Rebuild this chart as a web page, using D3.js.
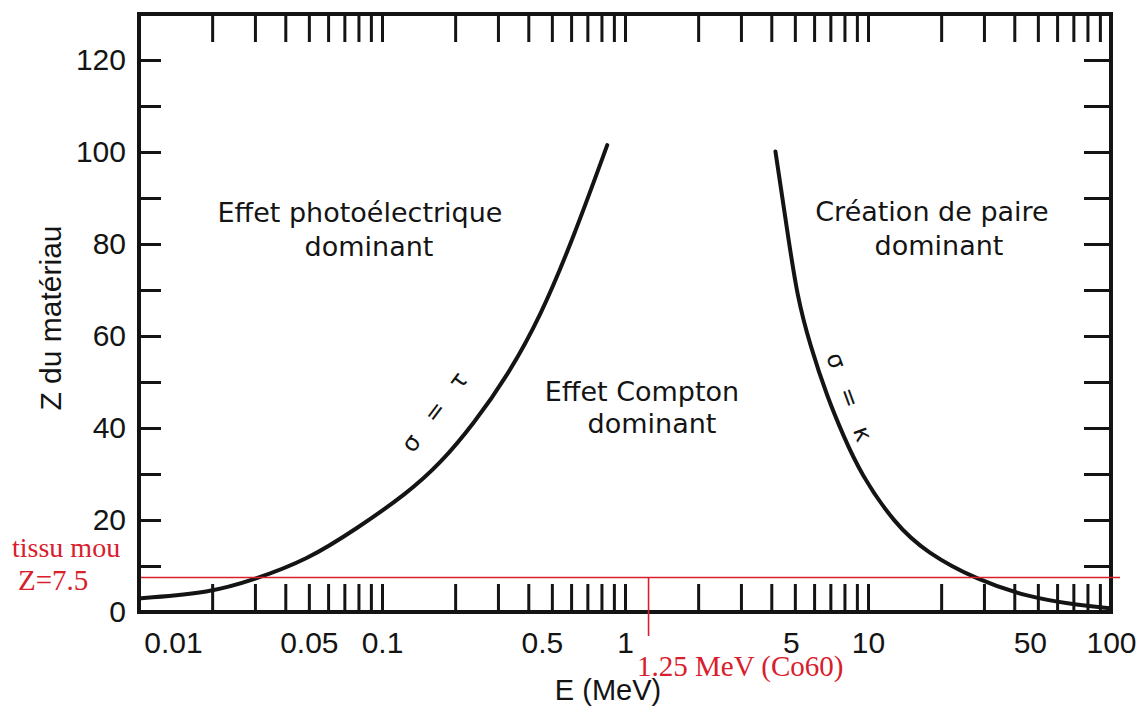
<!DOCTYPE html>
<html><head><meta charset="utf-8">
<script src="https://cdn.jsdelivr.net/npm/d3@7"></script>
<style>body{margin:0;background:#fff} svg{display:block}</style>
</head><body>
<svg id="chart" width="1139" height="706"></svg>
<script>
// ---- data ----
const xTickLabels = [0.01, 0.05, 0.1, 0.5, 1, 5, 10, 50, 100];
const yTickLabels = [0, 20, 40, 60, 80, 100, 120];
const yMinorTicks = [10, 20, 30, 40, 50, 60, 70, 80, 90, 100, 110, 120];

// sigma = tau boundary (photoelectric / Compton)
const leftCurveE = [0.0102, 0.0197, 0.0296, 0.0492, 0.0791, 0.127, 0.174, 0.239, 0.327, 0.449, 0.616, 0.845];
const leftCurveZ = [3.0, 4.2, 7.0, 11.3, 18.2, 25.8, 32.3, 41.0, 51.2, 64.2, 81.6, 101.5];

// sigma = kappa boundary (Compton / pair production)
const rightCurveE = [4.16, 4.65, 5.11, 5.80, 6.79, 7.95, 9.31, 12.8, 17.5, 28.1, 45.2, 72.6, 99.5];
const rightCurveZ = [100.1, 83.0, 68.5, 57.7, 46.8, 38.1, 30.2, 19.3, 12.8, 7.0, 3.3, 1.5, 0.8];

const softTissueZ = 7.5;
const co60E = 1.25;

// ---- scales ----
const x = d3.scaleLog().domain([0.01, 100]).range([139, 1111]);
const y = d3.scaleLinear().domain([0, 130]).range([612, 14]);
const svg = d3.select("#chart");
const ink = "#141414";
const red = "#d8202c";
const sans = "'Liberation Sans', Arial, sans-serif";
const dejavu = "'DejaVu Sans', Verdana, sans-serif";
const serif = "'Liberation Serif', 'Times New Roman', serif";

svg.append("rect").attr("width", 1139).attr("height", 706).attr("fill", "#fff");

// ---- minor ticks (inward) ----
const xMinor = x.ticks().filter(v => v > 0.0101 && v < 99);
const tickStyle = g => { g.select(".domain").remove(); g.selectAll("line").attr("stroke", ink).attr("stroke-width", 3); };

svg.append("g").attr("transform", `translate(0,${y(0)})`)
  .call(d3.axisBottom(x).tickValues(xMinor).tickSize(-28).tickFormat(""))
  .call(tickStyle);
svg.append("g").attr("transform", `translate(0,${y(130)})`)
  .call(d3.axisTop(x).tickValues(xMinor).tickSize(-28).tickFormat(""))
  .call(tickStyle);
svg.append("g").attr("transform", `translate(${x(0.01)},0)`)
  .call(d3.axisLeft(y).tickValues(yMinorTicks).tickSize(-22).tickFormat(""))
  .call(tickStyle);
svg.append("g").attr("transform", `translate(${x(100)},0)`)
  .call(d3.axisRight(y).tickValues(yMinorTicks).tickSize(-27).tickFormat(""))
  .call(tickStyle);

// ---- tick labels ----
const labelNudge = {0.01: 34, 0.5: -10, 50: -8, 5: -4};
const xl = svg.append("g").attr("transform", `translate(0,${y(0)})`)
  .call(d3.axisBottom(x).tickValues(xTickLabels).tickSize(0).tickPadding(20).tickFormat(d => String(d)));
xl.select(".domain").remove();
xl.selectAll("text").attr("font-family", sans).attr("font-size", 30).attr("fill", ink)
  .attr("dx", d => labelNudge[d] || 0);

const yl = svg.append("g").attr("transform", `translate(${x(0.01)},0)`)
  .call(d3.axisLeft(y).tickValues(yTickLabels).tickSize(0).tickPadding(13).tickFormat(d => String(d)));
yl.select(".domain").remove();
yl.selectAll("text").attr("font-family", sans).attr("font-size", 30).attr("fill", ink);

// ---- frame ----
svg.append("rect")
  .attr("x", x(0.01)).attr("y", y(130))
  .attr("width", x(100) - x(0.01)).attr("height", y(0) - y(130))
  .attr("fill", "none").attr("stroke", ink).attr("stroke-width", 4);

// ---- axis titles ----
svg.append("text").attr("x", 608).attr("y", 700).attr("text-anchor", "middle")
  .attr("font-family", sans).attr("font-size", 29).attr("fill", ink).text("E (MeV)");
svg.append("text").attr("transform", "translate(61,318) rotate(-90)").attr("text-anchor", "middle")
  .attr("font-family", sans).attr("font-size", 30).attr("fill", ink).text("Z du matériau");

// ---- curves ----
const line = d3.line().x(d => x(d[0])).y(d => y(d[1])).curve(d3.curveBasis);
svg.append("path").datum(leftCurveE.map((e, i) => [e, leftCurveZ[i]]))
  .attr("d", line).attr("fill", "none").attr("stroke", ink).attr("stroke-width", 4).attr("stroke-linecap", "round");
svg.append("path").datum(rightCurveE.map((e, i) => [e, rightCurveZ[i]]))
  .attr("d", line).attr("fill", "none").attr("stroke", ink).attr("stroke-width", 4).attr("stroke-linecap", "round");

// ---- curve labels ----
svg.append("text").attr("transform", "translate(443,414) rotate(-53)").attr("text-anchor", "middle")
  .attr("font-family", dejavu).attr("font-size", 24).attr("letter-spacing", 7).attr("fill", ink).text("σ = τ");
svg.append("text").attr("transform", "translate(843,403) rotate(70)").attr("text-anchor", "middle")
  .attr("font-family", dejavu).attr("font-size", 24).attr("letter-spacing", 7).attr("fill", ink).text("σ = κ");

// ---- region labels ----
const region = (txt, cx, by) => svg.append("text").attr("x", cx).attr("y", by).attr("text-anchor", "middle")
  .attr("font-family", dejavu).attr("font-size", 27).attr("fill", ink).text(txt);
region("Effet photoélectrique", 360, 222);
region("dominant", 369, 256);
region("Effet Compton", 642, 401);
region("dominant", 652, 433);
region("Création de paire", 932, 221);
region("dominant", 939, 255);

// ---- red annotations ----
svg.append("line").attr("x1", x(0.01) + 2).attr("x2", x(100) + 9)
  .attr("y1", y(softTissueZ)).attr("y2", y(softTissueZ))
  .attr("stroke", red).attr("stroke-width", 1.6);
svg.append("line").attr("x1", x(co60E)).attr("x2", x(co60E))
  .attr("y1", y(softTissueZ)).attr("y2", 636)
  .attr("stroke", red).attr("stroke-width", 1.6);
svg.append("text").attr("x", 12).attr("y", 557).attr("font-family", serif).attr("font-size", 28)
  .attr("fill", red).text("tissu mou");
svg.append("text").attr("x", 18).attr("y", 590).attr("font-family", serif).attr("font-size", 29)
  .attr("fill", red).text("Z=7.5");
svg.append("text").attr("x", 637).attr("y", 676).attr("font-family", serif).attr("font-size", 29)
  .attr("fill", red).text("1.25 MeV (Co60)");
</script>
</body></html>
